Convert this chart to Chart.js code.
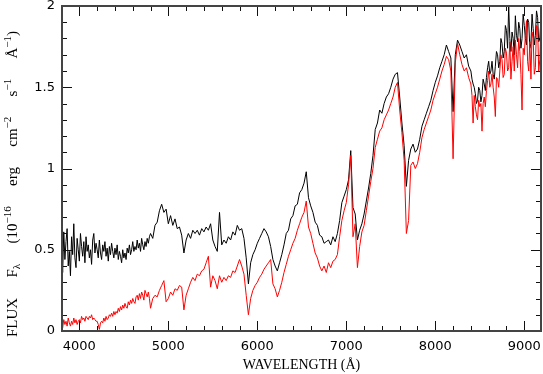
<!DOCTYPE html>
<html>
<head>
<meta charset="utf-8">
<script src="https://cdn.jsdelivr.net/npm/chart.js@4.4.1/dist/chart.umd.min.js"></script>
<style>
  html, body { margin: 0; padding: 0; background: #fff; }
  #wrap { width: 543px; height: 374px; position: relative; }
</style>
</head>
<body>
<div id="wrap"><canvas id="myChart"></canvas></div>
<script>
// wavelength grid (Angstrom) - finer sampling in the noisy blue and red ends
const WAVE = [
  3800, 3812.5, 3825, 3837.5, 3850, 3862.5, 3875, 3887.5, 3900, 3912.5, 3925, 3937.5, 3950, 3962.5, 3975, 3987.5,
  4000, 4012.5, 4025, 4037.5, 4050, 4062.5, 4075, 4087.5, 4100, 4112.5, 4125, 4137.5, 4150, 4162.5, 4175, 4187.5,
  4200, 4212.5, 4225, 4237.5, 4250, 4262.5, 4275, 4287.5, 4300, 4312.5, 4325, 4337.5, 4350, 4362.5, 4375, 4387.5,
  4400, 4412.5, 4425, 4437.5, 4450, 4462.5, 4475, 4487.5, 4500, 4512.5, 4525, 4537.5, 4550, 4562.5, 4575, 4587.5,
  4600, 4612.5, 4625, 4637.5, 4650, 4662.5, 4675, 4687.5, 4700, 4712.5, 4725, 4737.5, 4750, 4762.5, 4775, 4787.5,
  4800, 4825, 4850, 4875, 4900, 4925, 4950, 4975,
  5000, 5025, 5050, 5075, 5100, 5125, 5150, 5175,
  5200, 5225, 5250, 5275, 5300, 5325, 5350, 5375,
  5400, 5425, 5450, 5475, 5500, 5525, 5550, 5575,
  5600, 5625, 5650, 5675, 5700, 5725, 5750, 5775,
  5800, 5825, 5850, 5875, 5900, 5925, 5950, 5975,
  6000, 6025, 6050, 6075, 6100, 6125, 6150, 6175,
  6200, 6225, 6250, 6275, 6300, 6325, 6350, 6375,
  6400, 6425, 6450, 6475, 6500, 6525, 6550, 6575,
  6600, 6625, 6650, 6675, 6700, 6725, 6750, 6775,
  6800, 6825, 6850, 6875, 6900, 6925, 6950, 6975,
  7000, 7025, 7050, 7075, 7100, 7125, 7150, 7175,
  7200, 7225, 7250, 7275, 7300, 7325, 7350, 7375,
  7400, 7425, 7450, 7475, 7500, 7525, 7550, 7575,
  7600, 7625, 7650, 7675, 7700, 7725, 7750, 7775,
  7800, 7825, 7850, 7875, 7900, 7925, 7950, 7975,
  8000, 8025, 8050, 8075, 8100, 8125, 8150, 8175,
  8200, 8225, 8250, 8275, 8300, 8325, 8350, 8375,
  8400, 8412.5, 8425, 8437.5, 8450, 8462.5, 8475, 8487.5, 8500, 8512.5, 8525, 8537.5, 8550, 8562.5, 8575, 8587.5,
  8600, 8612.5, 8625, 8637.5, 8650, 8662.5, 8675, 8687.5, 8700, 8712.5, 8725, 8737.5, 8750, 8762.5, 8775, 8787.5,
  8800, 8812.5, 8825, 8837.5, 8850, 8862.5, 8875, 8887.5, 8900, 8912.5, 8925, 8937.5, 8950, 8962.5, 8975, 8987.5,
  9000, 9012.5, 9025, 9037.5, 9050, 9062.5, 9075, 9087.5, 9100, 9112.5, 9125, 9137.5, 9150, 9162.5, 9175, 9187.5,
  9200
];

// black spectrum (10^-16 erg cm^-2 s^-1 A^-1)
const FLUX_BLACK = [
  0.52, 0.36, 0.61, 0.44, 0.55, 0.63, 0.40, 0.49, 0.34, 0.58, 0.47, 0.66, 0.45, 0.39, 0.57, 0.50,
  0.43, 0.60, 0.52, 0.46, 0.55, 0.42, 0.58, 0.49, 0.53, 0.45, 0.50, 0.41, 0.56, 0.60, 0.48, 0.54,
  0.50, 0.45, 0.56, 0.48, 0.44, 0.53, 0.49, 0.55, 0.46, 0.51, 0.43, 0.52, 0.47, 0.54, 0.49, 0.45,
  0.51, 0.47, 0.53, 0.44, 0.49, 0.46, 0.42, 0.50, 0.45, 0.48, 0.44, 0.51, 0.48, 0.53, 0.47, 0.50,
  0.55, 0.49, 0.52, 0.50, 0.56, 0.51, 0.54, 0.49, 0.57, 0.53, 0.50, 0.55, 0.52, 0.57, 0.54, 0.58,
  0.60, 0.57, 0.65, 0.67, 0.74, 0.78, 0.73, 0.75,
  0.66, 0.71, 0.65, 0.69, 0.63, 0.64, 0.59, 0.48,
  0.56, 0.60, 0.57, 0.62, 0.60, 0.62, 0.59, 0.63,
  0.61, 0.64, 0.62, 0.66, 0.56, 0.52, 0.49, 0.73,
  0.53, 0.56, 0.54, 0.58, 0.56, 0.61, 0.59, 0.65,
  0.62, 0.63, 0.57, 0.45, 0.29, 0.42, 0.47, 0.50,
  0.54, 0.57, 0.60, 0.63, 0.61, 0.58, 0.52, 0.44,
  0.40, 0.37, 0.42, 0.47, 0.53, 0.60, 0.62, 0.69,
  0.71, 0.77, 0.78, 0.85, 0.87, 0.91, 0.98, 0.82,
  0.77, 0.73, 0.67, 0.65, 0.59, 0.58, 0.54, 0.55,
  0.56, 0.53, 0.58, 0.55, 0.60, 0.68, 0.79, 0.83,
  0.87, 0.93, 1.11, 0.76, 0.72, 0.56, 0.62, 0.66,
  0.72, 0.80, 0.88, 0.97, 1.08, 1.24, 1.28, 1.36,
  1.34, 1.40, 1.44, 1.46, 1.50, 1.55, 1.58, 1.59,
  1.44, 1.28, 1.14, 0.89, 1.05, 1.12, 1.15, 1.10,
  1.12, 1.18, 1.26, 1.30, 1.34, 1.38, 1.42, 1.48,
  1.53, 1.57, 1.62, 1.66, 1.70, 1.76, 1.72, 1.68,
  1.35, 1.70, 1.79, 1.76, 1.72, 1.68, 1.70, 1.63,
  1.60, 1.55, 1.52, 1.50, 1.46, 1.40, 1.42, 1.50, 1.48, 1.41, 1.45, 1.55, 1.52, 1.48, 1.56, 1.62,
  1.66, 1.58, 1.60, 1.66, 1.58, 1.55, 1.63, 1.72, 1.70, 1.62, 1.66, 1.80, 1.77, 1.68, 1.72, 1.88,
  1.85, 1.74, 2.00, 1.80, 1.72, 1.84, 1.80, 1.70, 1.94, 1.82, 1.78, 1.90, 1.86, 1.74, 1.80, 1.95,
  1.88, 1.80, 1.76, 1.92, 1.90, 1.74, 1.77, 1.95, 1.86, 1.76, 1.82, 1.97, 1.93, 1.78, 1.80, 1.92,
  1.86
];

// red spectrum
const FLUX_RED = [
  0.05, 0.02, 0.07, 0.04, 0.06, 0.03, 0.08, 0.05, 0.03, 0.06, 0.04, 0.08, 0.05, 0.07, 0.04, 0.06,
  0.07, 0.05, 0.09, 0.07, 0.08, 0.06, 0.09, 0.08, 0.07, 0.09, 0.08, 0.10, 0.07, 0.08, 0.07, 0.06,
  0.06, 0.04, 0.01, 0.05, 0.06, 0.05, 0.08, 0.06, 0.09, 0.07, 0.08, 0.10, 0.09, 0.11, 0.09, 0.12,
  0.10, 0.12, 0.11, 0.14, 0.12, 0.15, 0.13, 0.16, 0.14, 0.17, 0.15, 0.14, 0.18, 0.16, 0.19, 0.17,
  0.20, 0.18, 0.17, 0.21, 0.22, 0.19, 0.23, 0.20, 0.24, 0.22, 0.19, 0.25, 0.23, 0.21, 0.24, 0.20,
  0.14, 0.20, 0.22, 0.21, 0.25, 0.28, 0.31, 0.18,
  0.20, 0.24, 0.22, 0.26, 0.25, 0.28, 0.27, 0.13,
  0.22, 0.26, 0.30, 0.33, 0.31, 0.35, 0.34, 0.37,
  0.38, 0.42, 0.46, 0.27, 0.34, 0.31, 0.26, 0.34,
  0.30, 0.33, 0.31, 0.34, 0.33, 0.37, 0.36, 0.40,
  0.44, 0.40, 0.35, 0.22, 0.10, 0.20, 0.25, 0.28,
  0.30, 0.33, 0.35, 0.38, 0.40, 0.42, 0.44, 0.29,
  0.26, 0.21, 0.25, 0.30, 0.36, 0.41, 0.46, 0.50,
  0.54, 0.57, 0.62, 0.66, 0.70, 0.73, 0.80, 0.64,
  0.60, 0.54, 0.48, 0.45, 0.40, 0.37, 0.40, 0.36,
  0.42, 0.39, 0.43, 0.44, 0.47, 0.58, 0.68, 0.74,
  0.79, 0.90, 1.08, 0.58, 0.66, 0.39, 0.52, 0.61,
  0.65, 0.74, 0.83, 0.92, 1.00, 1.13, 1.18, 1.23,
  1.25, 1.30, 1.33, 1.36, 1.40, 1.44, 1.50, 1.53,
  1.36, 1.22, 1.05, 0.60, 0.68, 1.02, 1.04, 1.00,
  1.03, 1.10, 1.19, 1.24, 1.28, 1.32, 1.36, 1.42,
  1.46, 1.50, 1.55, 1.60, 1.64, 1.69, 1.67, 1.60,
  1.06, 1.65, 1.77, 1.70, 1.64, 1.60, 1.62, 1.56,
  1.52, 1.45, 1.28, 1.45, 1.38, 1.33, 1.30, 1.42, 1.38, 1.40, 1.23, 1.40, 1.44, 1.38, 1.48, 1.54,
  1.60, 1.50, 1.52, 1.58, 1.50, 1.44, 1.32, 1.56, 1.55, 1.50, 1.60, 1.70, 1.67, 1.56, 1.58, 1.74,
  1.71, 1.60, 1.62, 1.78, 1.55, 1.66, 1.75, 1.60, 1.79, 1.70, 1.62, 1.80, 1.72, 1.58, 1.36, 1.74,
  1.70, 1.82, 1.91, 1.66, 1.60, 1.78, 1.55, 1.84, 1.80, 1.58, 1.62, 1.88, 1.87, 1.60, 1.67, 1.86,
  1.75
];

const X_TICKS = [4000, 5000, 6000, 7000, 8000, 9000];
const Y_TICKS = [0, 0.5, 1, 1.5, 2];
const Y_TICK_LABELS = ['0', '0.5', '1', '1.5', '2'];
const X_MIN = 3805, X_MAX = 9188;

// y title pieces: [text, 0 normal / 1 superscript / -1 subscript]
const Y_TITLE = [
  [['FLUX', 0]],
  [['F', 0], ['\u03BB', -1]],
  [['(10', 0], ['\u221216', 1]],
  [['erg', 0]],
  [['cm', 0], ['\u22122', 1]],
  [['s', 0], ['\u22121', 1]],
  [['\u00C5', 0], ['\u22121', 1], [')', 0]]
];

function drawYTitle(ctx) {
  const big = '15px "Liberation Serif"', small = '11px "Liberation Serif"';
  const totalLen = 306;
  let widths = Y_TITLE.map(word => word.reduce((s, p) => {
    ctx.font = p[1] === 0 ? big : small;
    return s + ctx.measureText(p[0]).width;
  }, 0));
  const gap = (totalLen - widths.reduce((a, b) => a + b, 0)) / (Y_TITLE.length - 1);
  ctx.save();
  ctx.translate(0, 337);
  ctx.rotate(-Math.PI / 2);
  ctx.fillStyle = '#000';
  ctx.textBaseline = 'alphabetic';
  let pos = 0;
  Y_TITLE.forEach(word => {
    word.forEach(p => {
      ctx.font = p[1] === 0 ? big : small;
      const base = p[1] === 1 ? 11 : (p[1] === -1 ? 20 : 17);
      ctx.fillText(p[0], pos, base);
      pos += ctx.measureText(p[0]).width;
    });
    pos += gap;
  });
  ctx.restore();
}

const frameTicks = {
  id: 'frameTicks',
  afterDatasetsDraw(chart) {
    const { ctx, chartArea: a, scales: { x, y } } = chart;
    ctx.save();
    ctx.strokeStyle = '#111';
    ctx.lineWidth = 1;
    ctx.beginPath();
    for (let v = 3800; v <= 9200; v += 200) {
      if (v < X_MIN || v > X_MAX) continue;
      const px = Math.round(x.getPixelForValue(v)) + 0.5;
      const len = v % 1000 === 0 ? 10 : 5;
      ctx.moveTo(px, a.bottom); ctx.lineTo(px, a.bottom - len);
      ctx.moveTo(px, a.top); ctx.lineTo(px, a.top + len);
    }
    for (let i = 0; i <= 20; i++) {
      const py = Math.round(y.getPixelForValue(i / 10)) + 0.5;
      const len = i % 5 === 0 ? 10 : 5;
      ctx.moveTo(a.left, py); ctx.lineTo(a.left + len, py);
      ctx.moveTo(a.right, py); ctx.lineTo(a.right - len, py);
    }
    ctx.stroke();
    ctx.strokeStyle = '#444';
    ctx.lineWidth = 2;
    ctx.strokeRect(a.left, a.top, a.right - a.left, a.bottom - a.top);
    ctx.restore();
    drawYTitle(ctx);
  }
};

var ctx = document.getElementById('myChart').getContext('2d');
var chart = new Chart(ctx, {
  type: 'line',
  data: {
    datasets: [
      {
        label: 'red',
        data: WAVE.map((w, i) => ({ x: w, y: FLUX_RED[i] })),
        borderColor: '#ff0000',
        borderWidth: 1,
        pointRadius: 0,
        tension: 0,
        fill: false
      },
      {
        label: 'black',
        data: WAVE.map((w, i) => ({ x: w, y: FLUX_BLACK[i] })),
        borderColor: '#000000',
        borderWidth: 1,
        pointRadius: 0,
        tension: 0,
        fill: false
      }
    ]
  },
  options: {
    responsive: true,
    maintainAspectRatio: false,
    animation: false,
    layout: { padding: { top: 6, right: 2, left: 0, bottom: 0 } },
    plugins: {
      legend: { display: false },
      tooltip: { enabled: false },
      title: { display: false }
    },
    scales: {
      x: {
        type: 'linear',
        min: X_MIN,
        max: X_MAX,
        grid: { display: false, drawTicks: false },
        border: { display: false },
        afterBuildTicks: s => { s.ticks = X_TICKS.map(v => ({ value: v })); },
        afterFit: s => { s.height = 43; s.paddingLeft = 0; s.paddingRight = 0; },
        ticks: {
          callback: v => String(v),
          font: { family: 'DejaVu Sans', size: 13 },
          color: '#000',
          padding: 8,
          maxRotation: 0,
          autoSkip: false
        },
        title: {
          display: true,
          text: 'WAVELENGTH (\u00C5)',
          font: { family: 'Liberation Serif', size: 14 },
          color: '#000',
          padding: { top: 0, bottom: 0 }
        }
      },
      y: {
        type: 'linear',
        min: 0,
        max: 2,
        grid: { display: false, drawTicks: false },
        border: { display: false },
        afterBuildTicks: s => { s.ticks = Y_TICKS.map(v => ({ value: v })); },
        afterFit: s => { s.width = 62; s.paddingTop = 0; s.paddingBottom = 0; },
        ticks: {
          callback: (v) => Y_TICK_LABELS[Y_TICKS.indexOf(v)],
          font: { family: 'DejaVu Sans', size: 13 },
          color: '#000',
          padding: 7,
          autoSkip: false
        },
        title: { display: false }
      }
    }
  },
  plugins: [frameTicks]
});
</script>
</body>
</html>
